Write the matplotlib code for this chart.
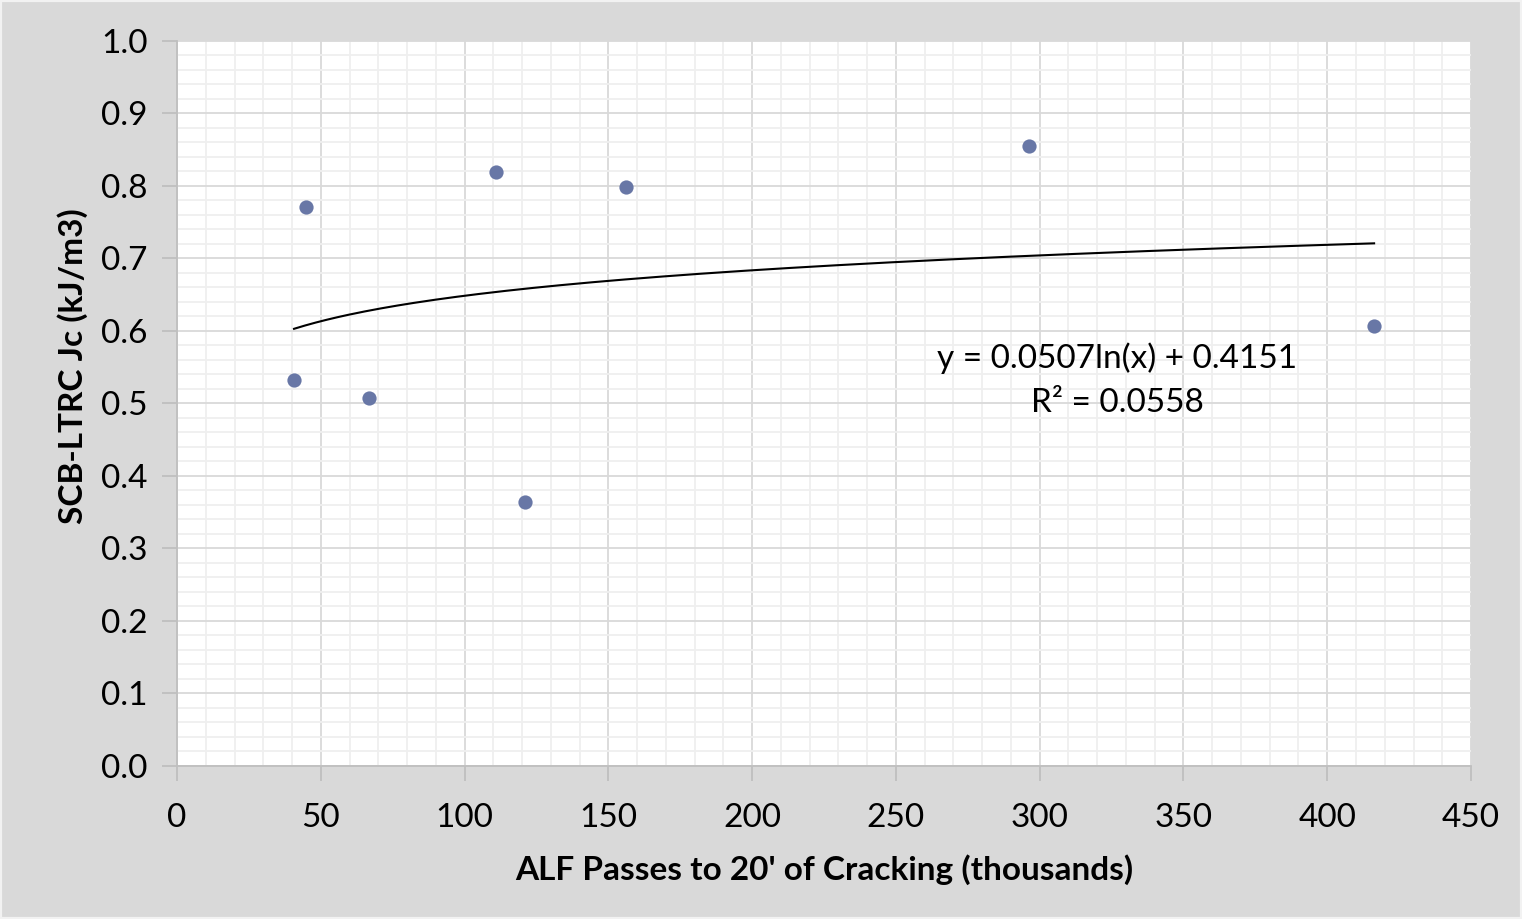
import matplotlib.pyplot as plt
import numpy as np
from matplotlib.ticker import MultipleLocator
from matplotlib.patches import Rectangle

# ALF passes (thousands) vs SCB-LTRC Jc
passes = [40.7, 44.9, 66.8, 110.9, 121.0, 156.1, 296.3, 416.3]
jc = [0.532, 0.771, 0.508, 0.819, 0.364, 0.799, 0.855, 0.607]

# log trendline as reported
coef_a = 0.0507
coef_b = 0.4151
r2 = 0.0558

plt.rcParams['font.family'] = ['Lato', 'DejaVu Sans']

fig = plt.figure(figsize=(15.22, 9.19), dpi=100, facecolor='#d9d9d9')
fig.patches.append(Rectangle((0, 0), 1, 1, transform=fig.transFigure,
                             fill=False, edgecolor='#f2f2f2', linewidth=3))
ax = fig.add_axes([0.1163, 0.1665, 0.8502, 0.7889])
ax.set_facecolor('white')

# grid
ax.xaxis.set_major_locator(MultipleLocator(50))
ax.xaxis.set_minor_locator(MultipleLocator(10))
ax.yaxis.set_major_locator(MultipleLocator(0.1))
ax.yaxis.set_minor_locator(MultipleLocator(0.02))
ax.grid(which='minor', color='#efefef', linewidth=1.3)
ax.grid(which='major', color='#d9d9d9', linewidth=1.3)
ax.set_axisbelow(True)

xs = np.linspace(min(passes), max(passes), 200)
ax.plot(xs, coef_a * np.log(xs) + coef_b, color='black', linewidth=1.5, zorder=3)
ax.scatter(passes, jc, s=105, color='#6877a6', zorder=4, linewidths=0)

ax.text(0.7265, 0.532, 'y = %.4fln(x) + %.4f\nR² = %.4f' % (coef_a, coef_b, r2),
        transform=ax.get_yaxis_transform(), ha='center', va='center',
        fontsize=24, linespacing=1.6, zorder=5)

ax.set_xlim(0, 450)
ax.set_ylim(0, 1.0)
ax.set_yticks(np.arange(0, 1.01, 0.1))
ax.set_yticklabels(['%.1f' % v for v in np.arange(0, 1.01, 0.1)])

for s in ['top', 'right']:
    ax.spines[s].set_visible(False)
for s in ['left', 'bottom']:
    ax.spines[s].set_color('#bfbfbf')
    ax.spines[s].set_linewidth(1.3)

ax.tick_params(which='major', length=11, width=1.3, color='#bfbfbf', labelsize=24)
ax.tick_params(axis='x', which='major', pad=16)
ax.tick_params(axis='y', which='major', pad=10)
ax.tick_params(which='minor', length=0)

ax.set_xlabel("ALF Passes to 20' of Cracking (thousands)", fontsize=24, fontweight='bold', labelpad=15)
ax.set_ylabel('SCB-LTRC Jc (kJ/m3)', fontsize=24, fontweight='bold')
ax.yaxis.set_label_coords(-0.069, 0.552)

fig.savefig('out.png', dpi=100, facecolor=fig.get_facecolor())
